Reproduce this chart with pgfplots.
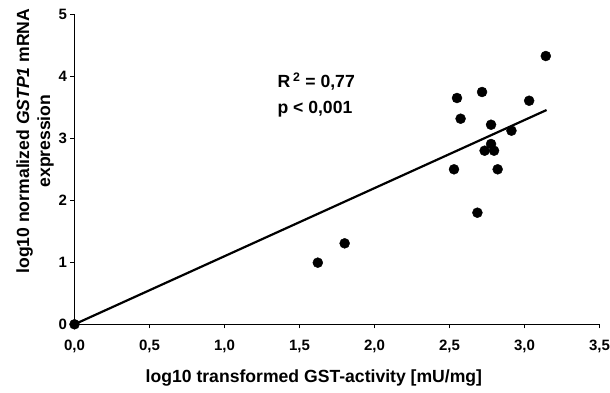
\documentclass[border=0pt]{standalone}
\usepackage{pgfplots}
\pgfplotsset{compat=1.18}
\usepackage{fontspec}
\setmainfont{Liberation Sans}
\begin{document}
\begin{tikzpicture}
\begin{axis}[
  at={(0,0)}, anchor=south west,
  scale only axis,
  width=525bp, height=310bp,
  xmin=0, xmax=3.5, ymin=0, ymax=5,
  clip=false,
  axis lines=left,
  axis line style={-, line width=1.5bp, black},
  xtick={0,0.5,...,3.5},
  ytick={0,1,2,3,4,5},
  tick align=outside,
  major tick length=4bp,
  tick style={line width=1.3bp, black},
  minor tick num=0,
  /pgf/number format/assume math mode=true,
  xticklabel style={font=\fontsize{15bp}{17bp}\selectfont\bfseries, yshift=-8bp,
    /pgf/number format/.cd, fixed, fixed zerofill, precision=1, use comma},
  yticklabel style={font=\fontsize{15bp}{17bp}\selectfont\bfseries,
    /pgf/number format/.cd, fixed, precision=0},
  xlabel={log10 transformed GST-activity [mU/mg]},
  xlabel style={font=\fontsize{17.6bp}{20bp}\selectfont\bfseries,
    at={(axis description cs:0.456,-0.1716)}, anchor=center},
  ylabel={log10 normalized \textit{GSTP1} mRNA\\expression},
  ylabel style={font=\fontsize{17.6bp}{21bp}\selectfont\bfseries, align=center,
    at={(axis description cs:-0.075,0.591)}, anchor=center},
]
\addplot[black, line width=2.2bp, no marks] coordinates {(0,0) (3.147,3.456)};
\addplot[only marks, mark=*, mark size=5bp, mark options={fill=black, draw=black}] coordinates {
(0,0)
(3.142,4.327)
(2.550,3.650)
(2.717,3.747)
(3.031,3.606)
(2.574,3.316)
(2.777,3.219)
(2.913,3.123)
(2.777,2.908)
(2.734,2.800)
(2.797,2.800)
(2.530,2.500)
(2.821,2.500)
(2.686,1.800)
(1.801,1.306)
(1.622,0.994)
};
\node[anchor=base west, inner sep=0, font=\fontsize{17.6bp}{20bp}\selectfont\bfseries] at (axis cs:1.352,3.82) {R\,\textsuperscript{2} = 0,77};
\node[anchor=base west, inner sep=0, font=\fontsize{17.6bp}{20bp}\selectfont\bfseries] at (axis cs:1.352,3.40) {p < 0,001};
\end{axis}
\pgfresetboundingbox
\path[use as bounding box] (-74.5bp,-68.7bp) rectangle (535.5bp,324.3bp);
\end{tikzpicture}
\end{document}
